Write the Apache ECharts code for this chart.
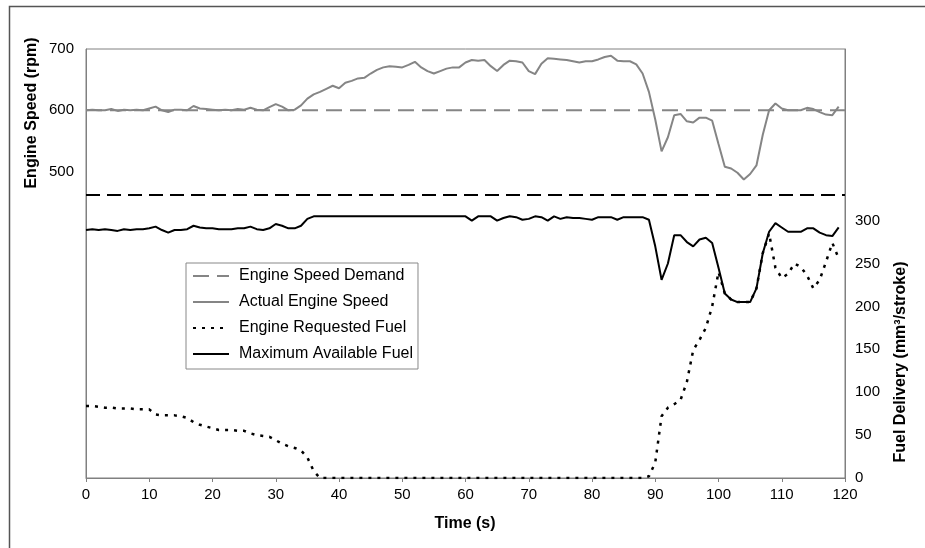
<!DOCTYPE html>
<html>
<head>
<meta charset="utf-8">
<script src="https://cdn.jsdelivr.net/npm/echarts@6/dist/echarts.min.js"></script>
<style>html,body{margin:0;padding:0;background:#fff;}#c{width:925px;height:548px;}</style>
</head>
<body>
<div id="c"></div>
<script>
// ---- Data ----
const timeS = [];
for (let i = 0; i < 120; i++) timeS.push(i);

const actualSpeed = [600,601,600,600,602,599,601,600,601,600,603,606,600,597,601,601,600,607,603,602,
601,600,601,600,602,601,604,601,600,605,610,606,600,601,608,619,626,630,635,640,
636,645,648,652,653,660,666,670,672,671,670,674,679,670,664,660,664,668,670,670,
678,682,681,682,672,664,674,681,680,678,664,659,676,685,684,683,682,680,678,680,
680,683,687,689,681,680,680,675,660,630,585,533,556,592,594,582,580,588,588,583,
545,508,505,498,487,496,510,560,600,611,603,600,600,600,604,602,597,593,592,606];

const demandTime = [0, 120];
const demandSpeed = [600, 600];

const maxFuel = [289,290,289,290,289,288,290,289,290,290,291,293,289,286,289,289,290,294,292,291,
291,290,290,290,291,291,293,290,289,291,296,294,291,291,294,302,305,305,305,305,
305,305,305,305,305,305,305,305,305,305,305,305,305,305,305,305,305,305,305,305,
305,300,305,305,305,300,303,305,304,301,302,305,304,300,305,302,304,303,303,302,
301,304,304,304,301,304,304,304,304,301,270,231,250,283,283,275,270,278,280,274,
245,215,208,205,205,205,221,262,287,297,292,287,287,287,291,291,286,283,282,292];

const requestedFuel = [84,84,83,82,82,81,81,81,80,80,80,74,73,73,73,72,70,65,62,60,
58,56,56,56,55,55,52,50,49,48,44,40,37,35,32,24,8,0,0,0,
0,0,0,0,0,0,0,0,0,0,0,0,0,0,0,0,0,0,0,0,
0,0,0,0,0,0,0,0,0,0,0,0,0,0,0,0,0,0,0,0,
0,0,0,0,0,0,0,0,0,2,18,72,82,86,91,112,149,161,175,200,
240,215,208,205,205,205,221,262,285,245,233,238,250,246,236,221,231,252,274,256];

const separatorFuel = 330;

const xTicks = [0,10,20,30,40,50,60,70,80,90,100,110,120];
const speedLabels = [500, 600, 700];
const fuelLabels = [0, 50, 100, 150, 200, 250, 300];

const names = ['Engine Speed Demand','Actual Engine Speed','Engine Requested Fuel','Maximum Available Fuel'];

// ---- Chart ----
const pair = (xs, ys) => xs.map((x, i) => [x, ys[i]]);
const GRAY = '#858585';
const FONT = 'Liberation Sans, Arial, sans-serif';

const chart = echarts.init(document.getElementById('c'), null, {renderer: 'canvas'});
chart.setOption({
  animation: false,
  backgroundColor: '#ffffff',
  textStyle: {fontFamily: FONT},
  grid: {left: 86, right: 80, top: 49, bottom: 70, show: true, borderColor: '#808080', borderWidth: 1},
  xAxis: {
    type: 'value', min: xTicks[0], max: xTicks[xTicks.length - 1], interval: 10,
    axisLine: {lineStyle: {color: '#808080', width: 1}},
    axisTick: {show: true, length: 4, lineStyle: {color: '#808080'}},
    axisLabel: {color: '#000', fontSize: 15, fontFamily: FONT, margin: 9},
    splitLine: {show: false}
  },
  yAxis: [{
    type: 'value', min: 0, max: 700, interval: 100, position: 'left',
    axisLine: {show: true, lineStyle: {color: '#808080'}},
    axisTick: {show: false},
    axisLabel: {color: '#000', fontSize: 15, fontFamily: FONT, margin: 12,
      formatter: v => speedLabels.indexOf(v) >= 0 ? String(v) : ''},
    splitLine: {show: false}
  }, {
    type: 'value', min: 0, max: 500, interval: 50, position: 'right',
    axisLine: {show: true, lineStyle: {color: '#808080'}},
    axisTick: {show: false},
    axisLabel: {color: '#000', fontSize: 15, fontFamily: FONT, margin: 10,
      formatter: v => fuelLabels.indexOf(v) >= 0 ? String(v) : ''},
    splitLine: {show: false}
  }],
  legend: {
    orient: 'vertical', left: 186, top: 263,
    data: names,
    itemWidth: 36, itemHeight: 14, itemGap: 10,
    padding: [5, 5, 7, 6],
    backgroundColor: '#fff', borderColor: '#888', borderWidth: 1,
    itemStyle: {color: 'rgba(0,0,0,0)', borderWidth: 0, opacity: 0},
    textStyle: {color: '#000', fontSize: 16, fontFamily: FONT, padding: [0, 0, 0, 5]}
  },
  series: [{
    name: names[0], type: 'line', yAxisIndex: 0, data: pair(demandTime, demandSpeed),
    symbol: 'none', showSymbol: false, color: GRAY,
    lineStyle: {color: GRAY, width: 2, type: [16, 8]}, z: 2
  }, {
    name: names[1], type: 'line', yAxisIndex: 0, data: pair(timeS, actualSpeed),
    symbol: 'none', showSymbol: false, color: GRAY,
    lineStyle: {color: GRAY, width: 2}, z: 3
  }, {
    name: names[2], type: 'line', yAxisIndex: 1, data: pair(timeS, requestedFuel),
    symbol: 'none', showSymbol: false, color: '#000',
    lineStyle: {color: '#000', width: 2.5, type: [3, 6]}, z: 4
  }, {
    name: names[3], type: 'line', yAxisIndex: 1, data: pair(timeS, maxFuel),
    symbol: 'none', showSymbol: false, color: '#000',
    lineStyle: {color: '#000', width: 2}, z: 5,
    markLine: {
      silent: true, symbol: ['none', 'none'], label: {show: false},
      lineStyle: {color: '#000', width: 2, type: [14, 7]},
      data: [{yAxis: separatorFuel}]
    }
  }],
  graphic: [{
    type: 'rect', left: 7, top: 4, silent: true,
    shape: {width: 940, height: 570},
    style: {fill: 'none', stroke: '#555', lineWidth: 1.5}
  }, {
    type: 'text', x: 32, y: 113, rotation: Math.PI / 2,
    style: {text: 'Engine Speed (rpm)', fill: '#000', font: 'bold 16px ' + FONT, align: 'center', verticalAlign: 'middle'}
  }, {
    type: 'text', x: 901, y: 362, rotation: Math.PI / 2,
    style: {text: 'Fuel Delivery (mm³/stroke)', fill: '#000', font: 'bold 16px ' + FONT, align: 'center', verticalAlign: 'middle'}
  }, {
    type: 'text', x: 465, y: 524,
    style: {text: 'Time (s)', fill: '#000', font: 'bold 16px ' + FONT, align: 'center', verticalAlign: 'middle'}
  }]
});
</script>
</body>
</html>
